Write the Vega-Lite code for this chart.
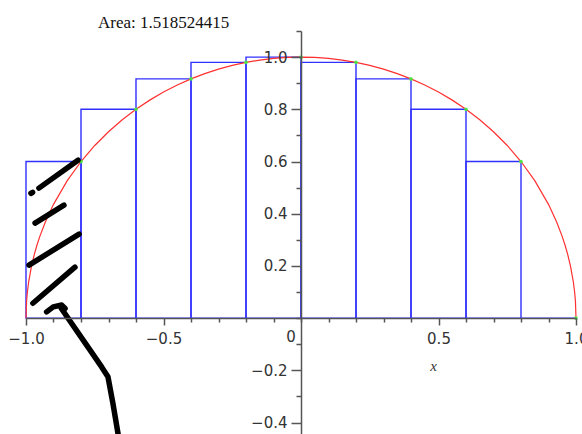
{
  "$schema": "https://vega.github.io/schema/vega-lite/v6.json",
  "width": 550,
  "height": 403,
  "autosize": {"type": "none"},
  "padding": {"left": 26, "top": 31, "right": 6, "bottom": 0},
  "background": "white",
  "config": {"view": {"stroke": null}},
  "title": {"text": "Area: 1.518524415", "anchor": "start", "dx": 72, "dy": 21, "offset": 6, "font": "Liberation Serif", "fontSize": 17, "fontWeight": "normal", "color": "#111111", "baseline": "alphabetic", "frame": "group"},
  "resolve": {"axis": {"x": "independent", "y": "independent"}},
  "datasets": {
    "rects": [
      {"x0": -1.0, "x1": -0.8, "h": 0.6},
      {"x0": -0.8, "x1": -0.6, "h": 0.8},
      {"x0": -0.6, "x1": -0.4, "h": 0.91652},
      {"x0": -0.4, "x1": -0.2, "h": 0.9798},
      {"x0": -0.2, "x1": 0.0, "h": 1.0},
      {"x0": 0.0, "x1": 0.2, "h": 0.9798},
      {"x0": 0.2, "x1": 0.4, "h": 0.91652},
      {"x0": 0.4, "x1": 0.6, "h": 0.8},
      {"x0": 0.6, "x1": 0.8, "h": 0.6},
      {"x0": 0.8, "x1": 1.0, "h": 0.0}
    ],
    "curve": [
      {"x": -1.0, "y": 0.0}, {"x": -0.998, "y": 0.0632}, {"x": -0.995, "y": 0.09987}, {"x": -0.99, "y": 0.14107},
      {"x": -0.98, "y": 0.199}, {"x": -0.97, "y": 0.2431}, {"x": -0.96, "y": 0.28}, {"x": -0.95, "y": 0.31225},
      {"x": -0.93, "y": 0.36756}, {"x": -0.9, "y": 0.43589}, {"x": -0.85, "y": 0.52678}, {"x": -0.8, "y": 0.6},
      {"x": -0.75, "y": 0.66144}, {"x": -0.7, "y": 0.71414}, {"x": -0.65, "y": 0.75993}, {"x": -0.6, "y": 0.8},
      {"x": -0.55, "y": 0.83516}, {"x": -0.5, "y": 0.86603}, {"x": -0.45, "y": 0.89303}, {"x": -0.4, "y": 0.91652},
      {"x": -0.35, "y": 0.93675}, {"x": -0.3, "y": 0.95394}, {"x": -0.25, "y": 0.96825}, {"x": -0.2, "y": 0.9798},
      {"x": -0.15, "y": 0.98869}, {"x": -0.1, "y": 0.99499}, {"x": -0.05, "y": 0.99875}, {"x": 0.0, "y": 1.0},
      {"x": 0.05, "y": 0.99875}, {"x": 0.1, "y": 0.99499}, {"x": 0.15, "y": 0.98869}, {"x": 0.2, "y": 0.9798},
      {"x": 0.25, "y": 0.96825}, {"x": 0.3, "y": 0.95394}, {"x": 0.35, "y": 0.93675}, {"x": 0.4, "y": 0.91652},
      {"x": 0.45, "y": 0.89303}, {"x": 0.5, "y": 0.86603}, {"x": 0.55, "y": 0.83516}, {"x": 0.6, "y": 0.8},
      {"x": 0.65, "y": 0.75993}, {"x": 0.7, "y": 0.71414}, {"x": 0.75, "y": 0.66144}, {"x": 0.8, "y": 0.6},
      {"x": 0.85, "y": 0.52678}, {"x": 0.9, "y": 0.43589}, {"x": 0.93, "y": 0.36756}, {"x": 0.95, "y": 0.31225},
      {"x": 0.96, "y": 0.28}, {"x": 0.97, "y": 0.2431}, {"x": 0.98, "y": 0.199}, {"x": 0.99, "y": 0.14107},
      {"x": 0.995, "y": 0.09987}, {"x": 0.998, "y": 0.0632}, {"x": 1.0, "y": 0.0}
    ],
    "pts": [
      {"x": -0.8, "y": 0.6}, {"x": -0.6, "y": 0.8}, {"x": -0.4, "y": 0.91652}, {"x": -0.2, "y": 0.9798},
      {"x": 0.0, "y": 1.0}, {"x": 0.2, "y": 0.9798}, {"x": 0.4, "y": 0.91652}, {"x": 0.6, "y": 0.8},
      {"x": 0.8, "y": 0.6}, {"x": 1.0, "y": 0.0}
    ],
    "ink": [
      {"g": "dot", "o": 1, "sx": -0.982, "sy": 0.478}, {"g": "dot", "o": 2, "sx": -0.976, "sy": 0.482},
      {"g": "s1", "o": 1, "sx": -0.953, "sy": 0.498}, {"g": "s1", "o": 2, "sx": -0.811, "sy": 0.605},
      {"g": "s2", "o": 1, "sx": -0.967, "sy": 0.364}, {"g": "s2", "o": 2, "sx": -0.862, "sy": 0.433},
      {"g": "s3", "o": 1, "sx": -0.989, "sy": 0.203}, {"g": "s3", "o": 2, "sx": -0.807, "sy": 0.322},
      {"g": "s4", "o": 1, "sx": -0.975, "sy": 0.057}, {"g": "s4", "o": 2, "sx": -0.822, "sy": 0.195},
      {"g": "hook", "o": 1, "sx": -0.925, "sy": 0.024}, {"g": "hook", "o": 2, "sx": -0.901, "sy": 0.043},
      {"g": "hook", "o": 3, "sx": -0.87, "sy": 0.05}, {"g": "hook", "o": 4, "sx": -0.858, "sy": 0.037},
      {"g": "shaft", "o": 1, "sx": -0.872, "sy": 0.038}, {"g": "shaft", "o": 2, "sx": -0.725, "sy": -0.187},
      {"g": "shaft", "o": 3, "sx": -0.702, "sy": -0.225}, {"g": "shaft", "o": 4, "sx": -0.684, "sy": -0.326},
      {"g": "shaft", "o": 5, "sx": -0.665, "sy": -0.445}
    ],
    "zero": [{"x": 0, "y": 0, "t": "0"}]
  },
  "layer": [
    {
      "data": {"name": "rects"},
      "mark": {"type": "rect", "fill": "transparent", "stroke": "#3030ff", "strokeWidth": 1.4},
      "encoding": {
        "x": {"field": "x0", "type": "quantitative",
          "scale": {"domain": [-1, 1], "nice": false, "zero": false},
          "axis": {"orient": "bottom", "offset": -116, "zindex": 1,
            "values": [-1, -0.5, 0.5, 1],
            "format": ".1f",
            "tickSize": 7,
            "domainColor": "#555555", "domainWidth": 1.5, "tickColor": "#555555", "tickWidth": 1.5,
            "labelFont": "DejaVu Sans", "labelFontSize": 15, "labelColor": "#333333", "labelPadding": 6,
            "labelOverlap": false, "labelFlush": false, "labelBound": false, "grid": false,
            "title": "x", "titleFont": "Liberation Serif", "titleFontStyle": "italic", "titleFontWeight": "normal",
            "titleFontSize": 15, "titleColor": "#333333", "titleX": 407, "titleY": 47, "titleBaseline": "middle", "titleAlign": "center"}},
        "x2": {"field": "x1"},
        "y": {"field": "h", "type": "quantitative",
          "scale": {"domain": [-0.444, 1.1], "nice": false, "zero": false},
          "axis": {"orient": "left", "offset": -275, "zindex": 1,
            "values": [-0.4, -0.2, 0.2, 0.4, 0.6, 0.8, 1.0],
            "format": ".1f",
            "tickSize": 10,
            "domainColor": "#555555", "domainWidth": 1.5, "tickColor": "#555555", "tickWidth": 1.5,
            "labelFont": "DejaVu Sans", "labelFontSize": 15, "labelColor": "#333333", "labelPadding": 4,
            "labelOverlap": false, "labelFlush": false, "labelBound": false, "grid": false, "title": null}},
        "y2": {"datum": 0}
      }
    },
    {
      "data": {"name": "curve"},
      "mark": {"type": "line", "color": "#ff3030", "strokeWidth": 1.2},
      "encoding": {
        "x": {"field": "x", "type": "quantitative",
          "axis": {"orient": "bottom", "offset": -116, "zindex": 1,
            "values": [-0.9, -0.8, -0.7, -0.6, -0.4, -0.3, -0.2, -0.1, 0, 0.1, 0.2, 0.3, 0.4, 0.6, 0.7, 0.8, 0.9],
            "labels": false, "domain": false, "grid": false, "tickSize": 4,
            "tickColor": "#555555", "tickWidth": 1.5, "title": null}},
        "y": {"field": "y", "type": "quantitative",
          "axis": {"orient": "left", "offset": -275, "zindex": 1,
            "values": [-0.3, -0.1, 0, 0.1, 0.3, 0.5, 0.7, 0.9, 1.1],
            "labels": false, "domain": false, "grid": false, "tickSize": 5,
            "tickColor": "#555555", "tickWidth": 1.5, "title": null}}
      }
    },
    {
      "data": {"name": "pts"},
      "mark": {"type": "point", "filled": true, "color": "#44ee44", "size": 14, "opacity": 0.9},
      "encoding": {
        "x": {"field": "x", "type": "quantitative", "axis": null},
        "y": {"field": "y", "type": "quantitative", "axis": null}
      }
    },
    {
      "data": {"name": "zero"},
      "mark": {"type": "text", "dx": -10, "dy": 19, "font": "DejaVu Sans", "fontSize": 15, "color": "#333333", "baseline": "middle", "align": "center"},
      "encoding": {
        "x": {"field": "x", "type": "quantitative", "axis": null},
        "y": {"field": "y", "type": "quantitative", "axis": null},
        "text": {"field": "t"}
      }
    },
    {
      "data": {"name": "ink"},
      "mark": {"type": "line", "color": "black", "strokeWidth": 5.5, "strokeCap": "round", "strokeJoin": "round"},
      "encoding": {
        "x": {"field": "sx", "type": "quantitative", "axis": null},
        "y": {"field": "sy", "type": "quantitative", "axis": null},
        "detail": {"field": "g"},
        "order": {"field": "o"}
      }
    }
  ]
}
